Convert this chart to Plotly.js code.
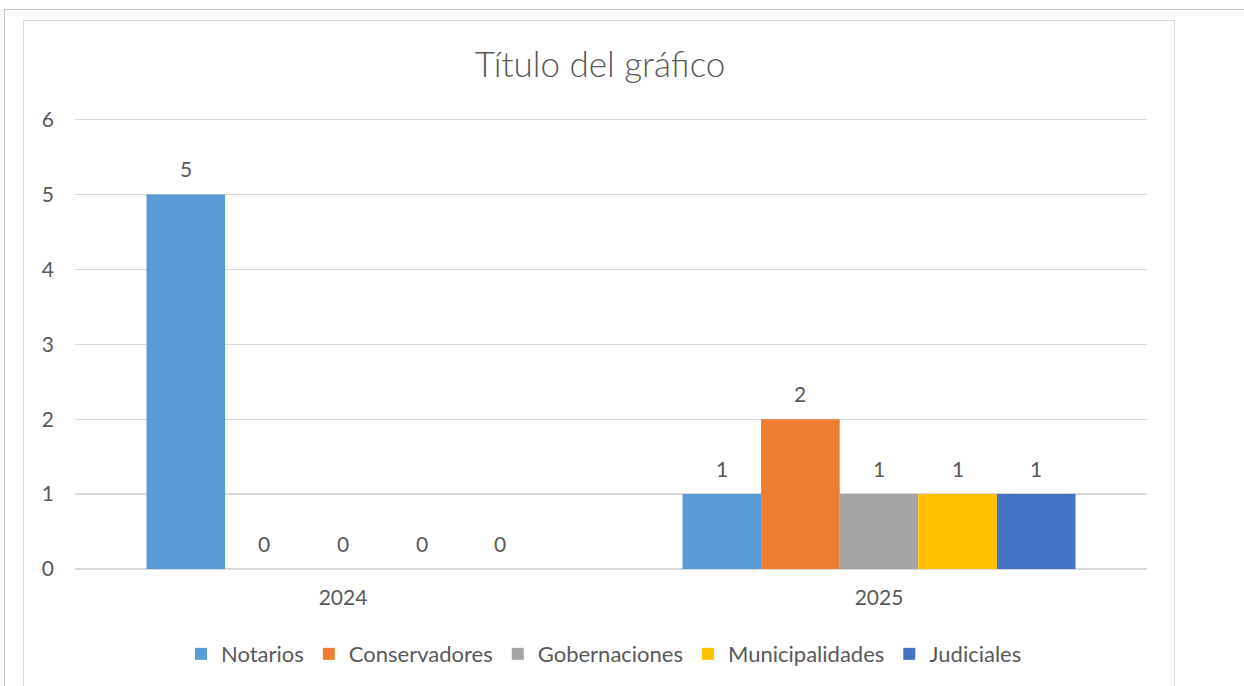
<!DOCTYPE html>
<html>
<head>
<meta charset="utf-8">
<script src="https://cdn.plot.ly/plotly-3.0.1.min.js"></script>
<style>
  html, body { margin: 0; padding: 0; background: #ffffff; }
  #wrap { position: relative; width: 1244px; height: 686px; overflow: hidden; }
  #outerTop { position: absolute; left: 4px; top: 9px; width: 1240px; height: 0; border-top: 1px solid #c3c3c3; }
  #outerLeft { position: absolute; left: 4px; top: 9px; width: 0; height: 677px; border-left: 1px solid #c3c3c3; }
  #frame { position: absolute; left: 23px; top: 20px; width: 1152px; height: 700px; border: 1.5px solid #d9d9d9; box-sizing: border-box; }
  #chart { position: absolute; left: 0; top: 0; width: 1244px; height: 686px; }
</style>
</head>
<body>
<div id="wrap">
  <div id="outerTop"></div>
  <div id="outerLeft"></div>
  <div id="frame"></div>
  <div id="chart"></div>
</div>
<script>
var categories = ["2024", "2025"];
var seriesNames = ["Notarios", "Conservadores", "Gobernaciones", "Municipalidades", "Judiciales"];
var notarios = [5, 1];
var conservadores = [0, 2];
var gobernaciones = [0, 1];
var municipalidades = [0, 1];
var judiciales = [0, 1];
var yTicks = [0, 1, 2, 3, 4, 5, 6];

var seriesValues = [notarios, conservadores, gobernaciones, municipalidades, judiciales];
var colors = ["#5B9BD5", "#ED7D31", "#A5A5A5", "#FFC000", "#4472C4"];
var textColor = "#595959";
var fontFamily = "Lato, 'Open Sans', sans-serif";
var bargap = 0.2668;

var traces = seriesNames.map(function (name, i) {
  return {
    type: "bar",
    name: name,
    x: categories,
    y: seriesValues[i],
    marker: { color: colors[i], line: { width: 0 } },
    hoverinfo: "none"
  };
});

var n = seriesNames.length;
var barW = (1 - bargap) / n;
var annotations = [];
seriesValues.forEach(function (vals, i) {
  vals.forEach(function (v, c) {
    annotations.push({
      x: c + (i - (n - 1) / 2) * barW,
      y: v,
      xref: "x",
      yref: "y",
      text: String(v),
      showarrow: false,
      xanchor: "center",
      yanchor: "middle",
      yshift: 26,
      font: { family: fontFamily, size: 21, color: textColor }
    });
  });
});

var yMax = 6.05;
var plotH = 450 * yMax / 6;

var layout = {
  width: 1244,
  height: 686,
  paper_bgcolor: "rgba(0,0,0,0)",
  plot_bgcolor: "rgba(0,0,0,0)",
  margin: { l: 75, r: 97, t: 686 - 116 - plotH, b: 116 },
  font: { family: fontFamily, size: 21, color: textColor },
  title: {
    text: "Título del gráfico",
    font: { family: fontFamily, size: 35, color: textColor, weight: 300 },
    xref: "container",
    yref: "container",
    x: 600 / 1244,
    xanchor: "center",
    y: 1 - 65 / 686,
    yanchor: "middle"
  },
  barmode: "group",
  bargap: bargap,
  bargroupgap: 0,
  showlegend: true,
  legend: {
    orientation: "h",
    x: (604 - 75) / 1072,
    xanchor: "center",
    y: (570 - 654) / plotH,
    yanchor: "middle",
    font: { family: fontFamily, size: 22, color: textColor },
    bgcolor: "rgba(0,0,0,0)"
  },
  xaxis: {
    type: "category",
    showgrid: false,
    showline: false,
    zeroline: false,
    ticks: "",
    ticklabelstandoff: 14,
    tickfont: { family: fontFamily, size: 21, color: textColor },
    fixedrange: true
  },
  yaxis: {
    range: [0, yMax],
    tickvals: yTicks,
    ticktext: yTicks.map(String),
    showgrid: true,
    gridcolor: "#d9d9d9",
    gridwidth: 1.5,
    zeroline: true,
    zerolinecolor: "#d9d9d9",
    zerolinewidth: 1.5,
    showline: false,
    ticks: "",
    ticklabelstandoff: 20,
    tickfont: { family: fontFamily, size: 21, color: textColor },
    fixedrange: true
  },
  annotations: annotations
};

Plotly.newPlot("chart", traces, layout, { displayModeBar: false, staticPlot: true });
</script>
</body>
</html>
